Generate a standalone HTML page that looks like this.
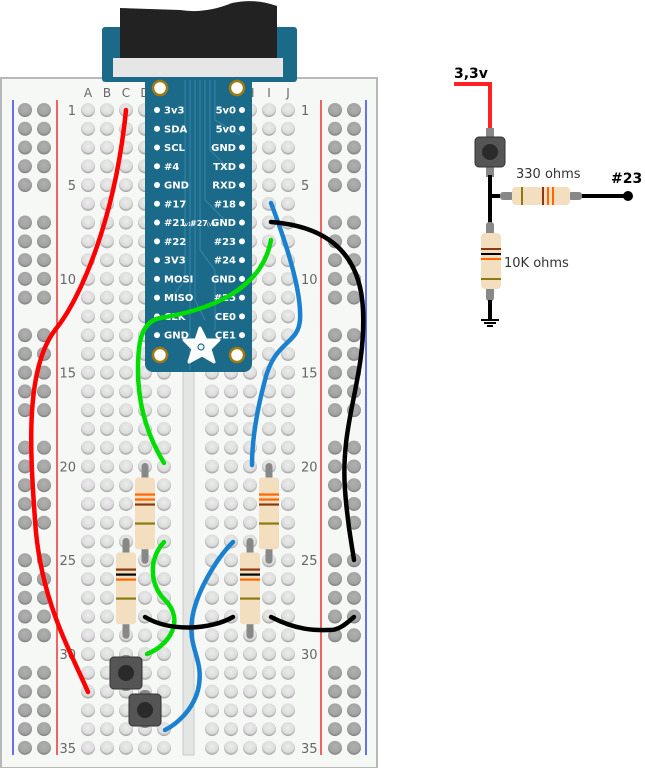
<!DOCTYPE html>
<html><head><meta charset="utf-8"><style>
html,body{margin:0;padding:0;background:#fff;width:645px;height:768px;overflow:hidden}
svg{display:block}
text{font-family:"DejaVu Sans","Liberation Sans",sans-serif}
</style></head><body>
<svg id="s" width="645" height="768" viewBox="0 0 645 768" xmlns="http://www.w3.org/2000/svg">
<defs>
<radialGradient id="hg" cx="50%" cy="40%" r="60%"><stop offset="0" stop-color="#ececec"/><stop offset="0.7" stop-color="#dcdcdc"/><stop offset="1" stop-color="#9a9a9a"/></radialGradient>
<radialGradient id="rg" cx="50%" cy="40%" r="60%"><stop offset="0" stop-color="#b0b0b0"/><stop offset="0.7" stop-color="#a3a3a3"/><stop offset="1" stop-color="#7a7a7a"/></radialGradient>
</defs>
<rect x="1" y="78" width="376" height="690" fill="#f6f8f6" stroke="#b8b8b8" stroke-width="2"/>
<line x1="13" y1="100" x2="13" y2="755" stroke="#3344ee" stroke-width="1.5"/>
<line x1="57" y1="100" x2="57" y2="755" stroke="#ee3333" stroke-width="1.5"/>
<line x1="321" y1="100" x2="321" y2="755" stroke="#ee3333" stroke-width="1.5"/>
<line x1="366" y1="100" x2="366" y2="755" stroke="#3344ee" stroke-width="1.5"/>
<rect x="183" y="90" width="11" height="665" fill="#e4e6e4" stroke="#c8c8c8"/>
<g id="holes"></g>
<g font-size="12" fill="#666" text-anchor="middle">
<text x="88" y="97">A</text><text x="107" y="97">B</text><text x="126" y="97">C</text><text x="145" y="97">D</text><text x="164" y="97">E</text>
<text x="212" y="97">F</text><text x="231" y="97">G</text><text x="250" y="97">H</text><text x="269" y="97">I</text><text x="288" y="97">J</text>
</g>
<g id="nums" font-size="13" fill="#666"></g>

<rect x="102" y="27" width="195" height="55" rx="3" fill="#1b6a8a"/>
<path d="M120 8 L180 10 Q205 14 232 3 Q255 -2 277 6 L277 62 L120 62 Z" fill="#222"/>
<rect x="113" y="58" width="170" height="19" fill="#e6e6e6"/>
<rect x="145" y="77" width="107" height="295" rx="8" fill="#1b6a8a"/>
<rect x="145" y="77" width="107" height="10" fill="#1b6a8a"/>
<g stroke="#3e8fb0" stroke-width="0.8" fill="none">
<path d="M190 80 V370 M195 80 V300 L205 320 M200 80 V250 L215 270 V330 M205 80 V200 L225 220 M210 80 V150 L230 170 M215 80 V120 L240 135 M185 80 V280 L170 300"/>
</g>
<g fill="#fff" stroke="#a07a10" stroke-width="2.5"><circle cx="160" cy="88" r="7"/><circle cx="237" cy="88" r="7"/><circle cx="160" cy="355" r="7"/><circle cx="237" cy="355" r="7"/></g>
<g id="pins" font-size="10" font-weight="bold" fill="#fff"></g>
<path d="M200 328 L206 340 L219 340 L210 349 L214 362 L202 355 L189 362 L193 349 L184 340 L196 340 Z" fill="#fff" stroke="#fff" stroke-width="3" stroke-linejoin="round"/>
<circle cx="201" cy="347" r="3" fill="none" stroke="#1b6a8a" stroke-width="1.2"/>

<g id="res"></g>

<g>
<rect x="120" y="655" width="12" height="36" rx="5" fill="#888"/>
<rect x="139" y="690" width="12" height="38" rx="5" fill="#888"/>
<rect x="110" y="657" width="32" height="32" rx="4" fill="#555" stroke="#333"/>
<circle cx="126" cy="673" r="8" fill="#2a2a2a"/>
<rect x="129" y="694" width="32" height="32" rx="4" fill="#555" stroke="#333"/>
<circle cx="145" cy="710" r="8" fill="#2a2a2a"/>
</g>

<g fill="none" stroke-linecap="round" stroke-width="4.5">
<path d="M126 110 C115 220 80 300 55 330 C25 370 30 450 35 520 C40 600 70 650 88 692" stroke="#f00"/>
<path d="M271 240 C262 290 210 310 160 318 C140 322 138 345 138 370 C138 410 150 440 164 463" stroke="#00dd00"/>
<path d="M164 542 C148 560 150 585 165 600 C185 620 170 645 147 654" stroke="#00dd00"/>
<path d="M271 203 C285 240 302 290 300 320 C298 345 275 340 265 380 C257 410 252 440 252 465" stroke="#1a80d0"/>
<path d="M233 542 C215 560 195 595 192 620 C188 650 205 660 198 690 C192 712 175 725 165 730" stroke="#1a80d0"/>
<path d="M271 222 C310 225 360 240 363 310 C366 380 340 420 345 490 C348 530 352 545 354 560" stroke="#000"/>
<path d="M145 617 C170 632 210 630 233 617" stroke="#000"/>
<path d="M271 617 C300 632 320 630 330 630 C340 630 348 622 354 617" stroke="#000"/>
</g>

<text x="454" y="78" font-size="14" font-weight="bold" fill="#000">3,3v</text>
<path d="M454 84 H490 V128" fill="none" stroke="#f22" stroke-width="4"/>
<rect x="486" y="128" width="8" height="14" fill="#888"/>
<rect x="486" y="165" width="8" height="12" fill="#888"/>
<rect x="475" y="137" width="30" height="30" rx="4" fill="#555" stroke="#333"/>
<circle cx="490" cy="152" r="8" fill="#2a2a2a"/>
<path d="M490 175 V225 M490 196 H500 M580 196 H628" stroke="#000" stroke-width="4" fill="none"/>
<circle cx="628" cy="196" r="5" fill="#000"/>
<rect x="500" y="192" width="14" height="8" rx="3" fill="#888"/>
<rect x="568" y="192" width="14" height="8" rx="3" fill="#888"/>
<rect x="512" y="187" width="58" height="18" rx="4" fill="#f3dfc0"/>
<rect x="521" y="187" width="2" height="18" fill="#8a7a10"/><rect x="542" y="187" width="2" height="18" fill="#8a3a10"/><rect x="547" y="187" width="2" height="18" fill="#f60"/><rect x="552" y="187" width="2" height="18" fill="#f60"/>
<text x="516" y="178" font-size="13" fill="#333">330  ohms</text>
<text x="611" y="183" font-size="14" font-weight="bold" fill="#000">#23</text>
<rect x="486" y="222" width="8" height="14" rx="3" fill="#888"/>
<rect x="486" y="285" width="8" height="16" rx="3" fill="#888"/>
<rect x="481" y="233" width="20" height="56" rx="4" fill="#f3dfc0"/>
<rect x="481" y="248" width="20" height="2" fill="#8a3a10"/><rect x="481" y="253" width="20" height="2" fill="#000"/><rect x="481" y="258" width="20" height="2" fill="#f60"/><rect x="481" y="278" width="20" height="2" fill="#8a7a10"/>
<text x="504" y="267" font-size="13" fill="#333">10K ohms</text>
<path d="M481 320 H499 M484 323 H496 M487 326 H493" stroke="#000" stroke-width="2" fill="none"/>
<path d="M490 300 V320" stroke="#000" stroke-width="4"/>
</svg>
<script>
var NS="http://www.w3.org/2000/svg";
function el(p,t,a,txt){var e=document.createElementNS(NS,t);for(var k in a)e.setAttribute(k,a[k]);if(txt)e.textContent=txt;p.appendChild(e);return e;}
var P=18.76,Y0=110;
function ry(r){return Y0+(r-1)*P;}
var H=document.getElementById('holes');
var cols=[88,107,126,145,164,212,231,250,269,288];
for(var r=1;r<=35;r++){var y=ry(r);
 cols.forEach(function(x){el(H,'circle',{cx:x,cy:y,r:7,fill:'url(#hg)'});});
 if(r%6!=0){[25,44,335,354].forEach(function(x){el(H,'circle',{cx:x,cy:y,r:7,fill:'url(#rg)'});});}
}
var N=document.getElementById('nums');
[1,5,10,15,20,25,30,35].forEach(function(n){var y=ry(n)+5;
 el(N,'text',{x:76,y:y,'text-anchor':'end'},String(n));
 el(N,'text',{x:301,y:y},String(n));});
var PN=document.getElementById('pins');
var L=['3v3','SDA','SCL','#4','GND','#17','#21','#22','3V3','MOSI','MISO','CLK','GND'];
var R=['5v0','5v0','GND','TXD','RXD','#18','GND','#23','#24','GND','#25','CE0','CE1'];
for(var i=0;i<13;i++){var y=ry(i+1);
 el(PN,'circle',{cx:157,cy:y,r:3,fill:'#fff'});
 el(PN,'circle',{cx:242,cy:y,r:3,fill:'#fff'});
 el(PN,'text',{x:164,y:y+3.5},L[i]);
 el(PN,'text',{x:236,y:y+3.5,'text-anchor':'end'},R[i]);}
el(PN,'text',{x:183,y:ry(7)+3.5,'font-size':5,'font-weight':'normal'},'(v1)');
el(PN,'text',{x:190,y:ry(7)+3.5,'font-size':8},'#27');
el(PN,'text',{x:207,y:ry(7)+3.5,'font-size':5,'font-weight':'normal'},'(v2)');
var RS=document.getElementById('res');
function res(x,r1,bands){var y1=ry(r1),y2=ry(r1+5);
 el(RS,'line',{x1:x,y1:y1,x2:x,y2:y2,stroke:'#888','stroke-width':7,'stroke-linecap':'round'});
 var top=y1+11,h=y2-y1-22;
 el(RS,'rect',{x:x-10,y:top,width:20,height:h,rx:3,fill:'#f3dfc0'});
 bands.forEach(function(b){el(RS,'rect',{x:x-10,y:top+b[0],width:20,height:2.2,fill:b[1]});});}
var A=[[16,'#f60'],[21,'#f60'],[26,'#8a3a10'],[45,'#8a7a10']];
var B=[[16,'#8a3a10'],[21,'#000'],[26,'#f60'],[45,'#8a7a10']];
res(145,20,A);res(126,24,B);res(269,20,A);res(250,24,B);
</script>
</body></html>
